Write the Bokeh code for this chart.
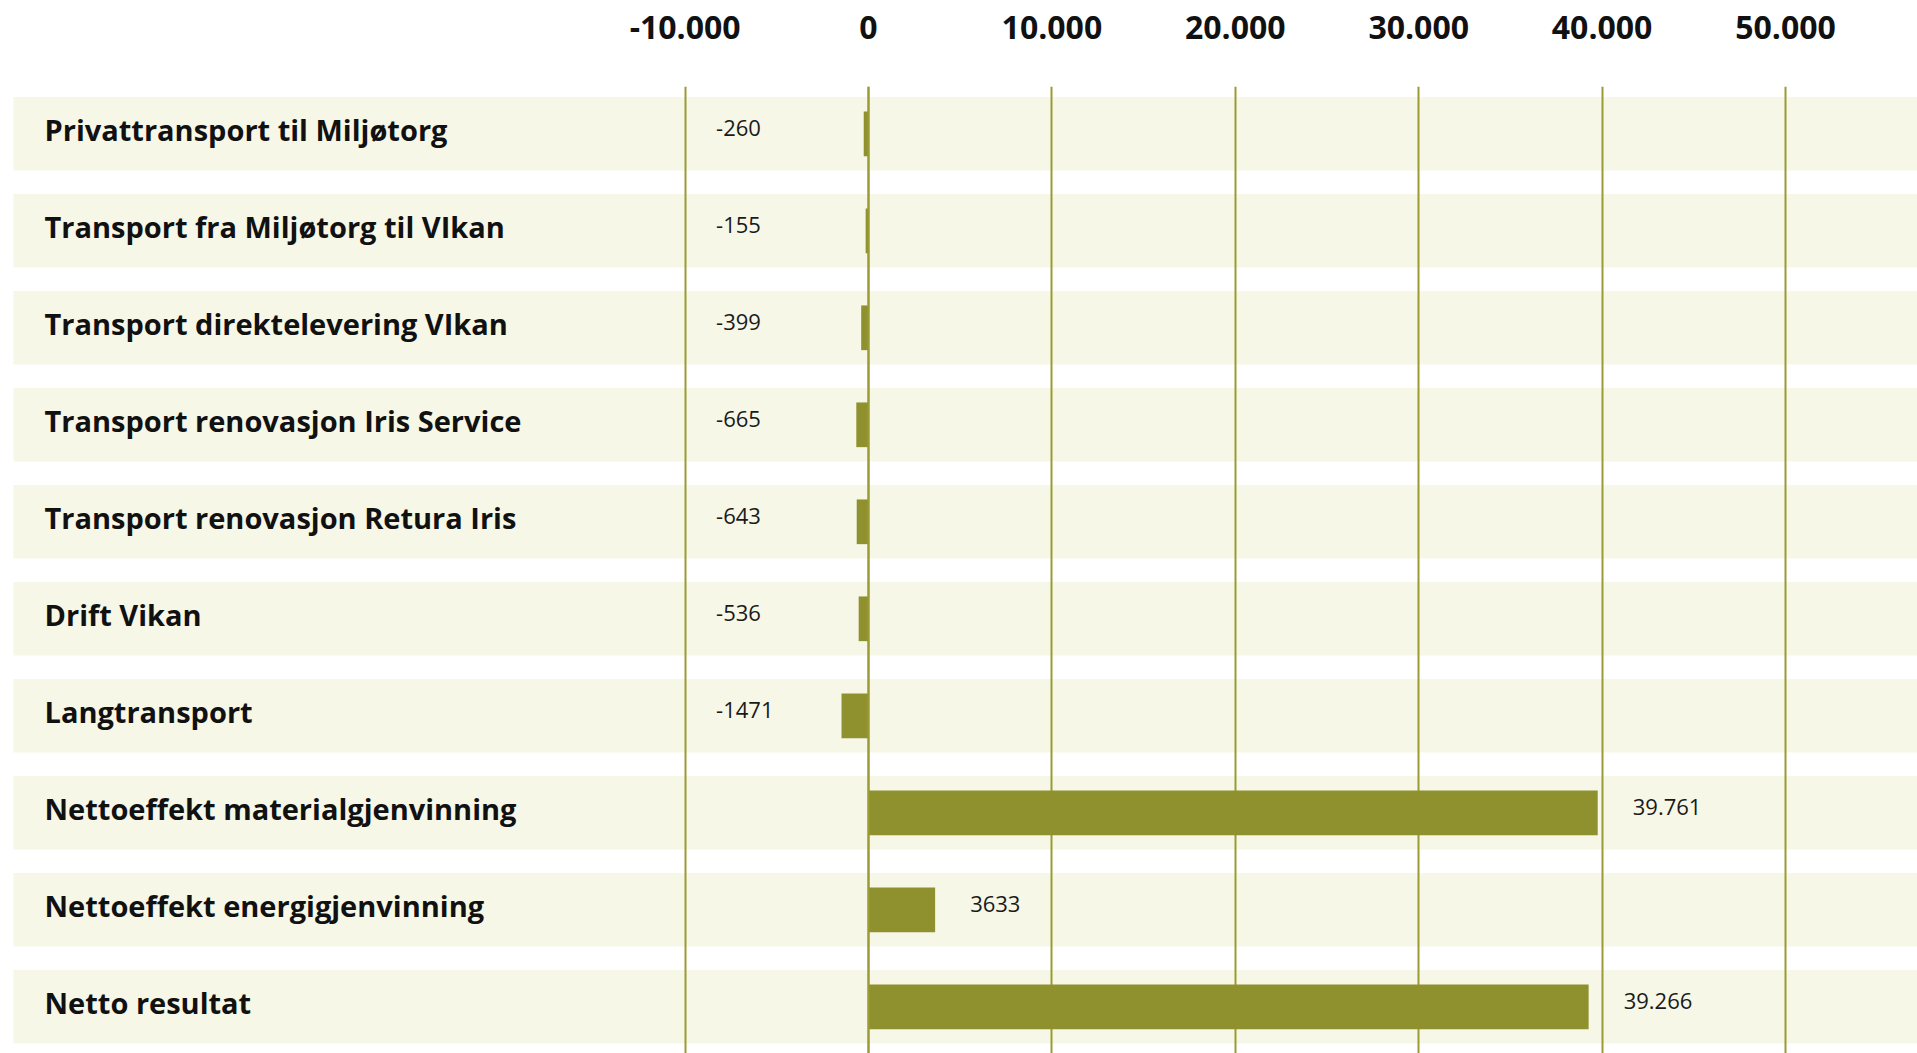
from bokeh.plotting import figure
from bokeh.models import Range1d, FixedTicker, ColumnDataSource, Span
from bokeh.core.properties import value
from bokeh.embed import file_html
from bokeh.resources import INLINE

# ---- data ----
categories = [
    "Privattransport til Miljøtorg",
    "Transport fra Miljøtorg til VIkan",
    "Transport direktelevering VIkan",
    "Transport renovasjon Iris Service",
    "Transport renovasjon Retura Iris",
    "Drift Vikan",
    "Langtransport",
    "Nettoeffekt materialgjenvinning",
    "Nettoeffekt energigjenvinning",
    "Netto resultat",
]
values = [-260, -155, -399, -665, -643, -536, -1471, 39761, 3633, 39266]
value_labels = ["-260", "-155", "-399", "-665", "-643", "-536", "-1471", "39.761", "3633", "39.266"]
ticks = [-10000, 0, 10000, 20000, 30000, 40000, 50000]
tick_labels = ["-10.000", "0", "10.000", "20.000", "30.000", "40.000", "50.000"]

# ---- layout constants (pixels) ----
W, H = 1917, 1053
frame_top = 86
zero_px = 868.0
px_per_unit = 183.4 / 10000.0
first_center = 133.3
row_pitch = 97.0
band_left_px = 13

BAR = "#8f912f"
BAND = "#f6f7e7"
GRID = "#9a9b35"

x_start = -zero_px / px_per_unit
x_end = (W - zero_px) / px_per_unit
y_top = (frame_top - first_center) / row_pitch
y_bot = (H - first_center) / row_pitch

p = figure(width=W, height=H, output_backend="svg", toolbar_location=None,
           x_range=Range1d(x_start, x_end), y_range=Range1d(y_bot, y_top),
           x_axis_location="above", y_axis_location=None,
           min_border_left=0, min_border_right=0, min_border_bottom=0,
           min_border_top=frame_top)
p.outline_line_color = None
p.background_fill_color = "white"
p.border_fill_color = "white"

idx = list(range(len(categories)))

# bands
band_src = ColumnDataSource(dict(y=idx, left=[x_start + band_left_px / px_per_unit] * len(idx),
                                 right=[x_end] * len(idx)))
p.hbar(y="y", left="left", right="right", height=73.4 / row_pitch, source=band_src,
       fill_color=BAND, line_color=None, level="image")

# grid
p.ygrid.visible = False
p.xgrid.ticker = FixedTicker(ticks=ticks)
p.xgrid.grid_line_color = GRID
p.xgrid.grid_line_width = 2

# axis on top
ax = p.xaxis[0]
ax.ticker = FixedTicker(ticks=ticks)
ax.major_label_overrides = {t: l for t, l in zip(ticks, tick_labels)}
ax.axis_line_color = None
ax.major_tick_line_color = None
ax.minor_tick_line_color = None
ax.major_tick_out = 0
ax.major_label_standoff = 48
ax.major_label_text_font = "Open Sans"
ax.major_label_text_font_style = "bold"
ax.major_label_text_font_size = "32px"
ax.major_label_text_color = "#111111"

# bars
bar_src = ColumnDataSource(dict(y=idx, v=values))
p.hbar(y="y", left=0, right="v", height=44.7 / row_pitch, source=bar_src,
       fill_color=BAR, line_color=None)
p.add_layout(Span(location=0, dimension="height", line_color=GRID, line_width=2))

# row labels
lab_src = ColumnDataSource(dict(y=idx, x=[x_start] * len(idx), t=categories))
p.text(x="x", y="y", text="t", source=lab_src, x_offset=44, y_offset=-4,
       text_baseline="alphabetic", text_align="left",
       text_font=value("Open Sans"), text_font_style="bold", text_font_size="29px",
       text_color="#111111")

# value labels
neg = [i for i, v in enumerate(values) if v < 0]
pos = [i for i, v in enumerate(values) if v >= 0]
neg_src = ColumnDataSource(dict(y=[idx[i] for i in neg], x=[ticks[0]] * len(neg),
                                t=[value_labels[i] for i in neg]))
pos_src = ColumnDataSource(dict(y=[idx[i] for i in pos], x=[values[i] for i in pos],
                                t=[value_labels[i] for i in pos]))
for src, off in ((neg_src, 31), (pos_src, 35)):
    p.text(x="x", y="y", text="t", source=src, x_offset=off, y_offset=-6,
           text_baseline="alphabetic", text_align="left",
           text_font=value("Open Sans"), text_font_size="22px", text_color="#1a1a1a")

open("out.html", "w").write(file_html(p, INLINE))
